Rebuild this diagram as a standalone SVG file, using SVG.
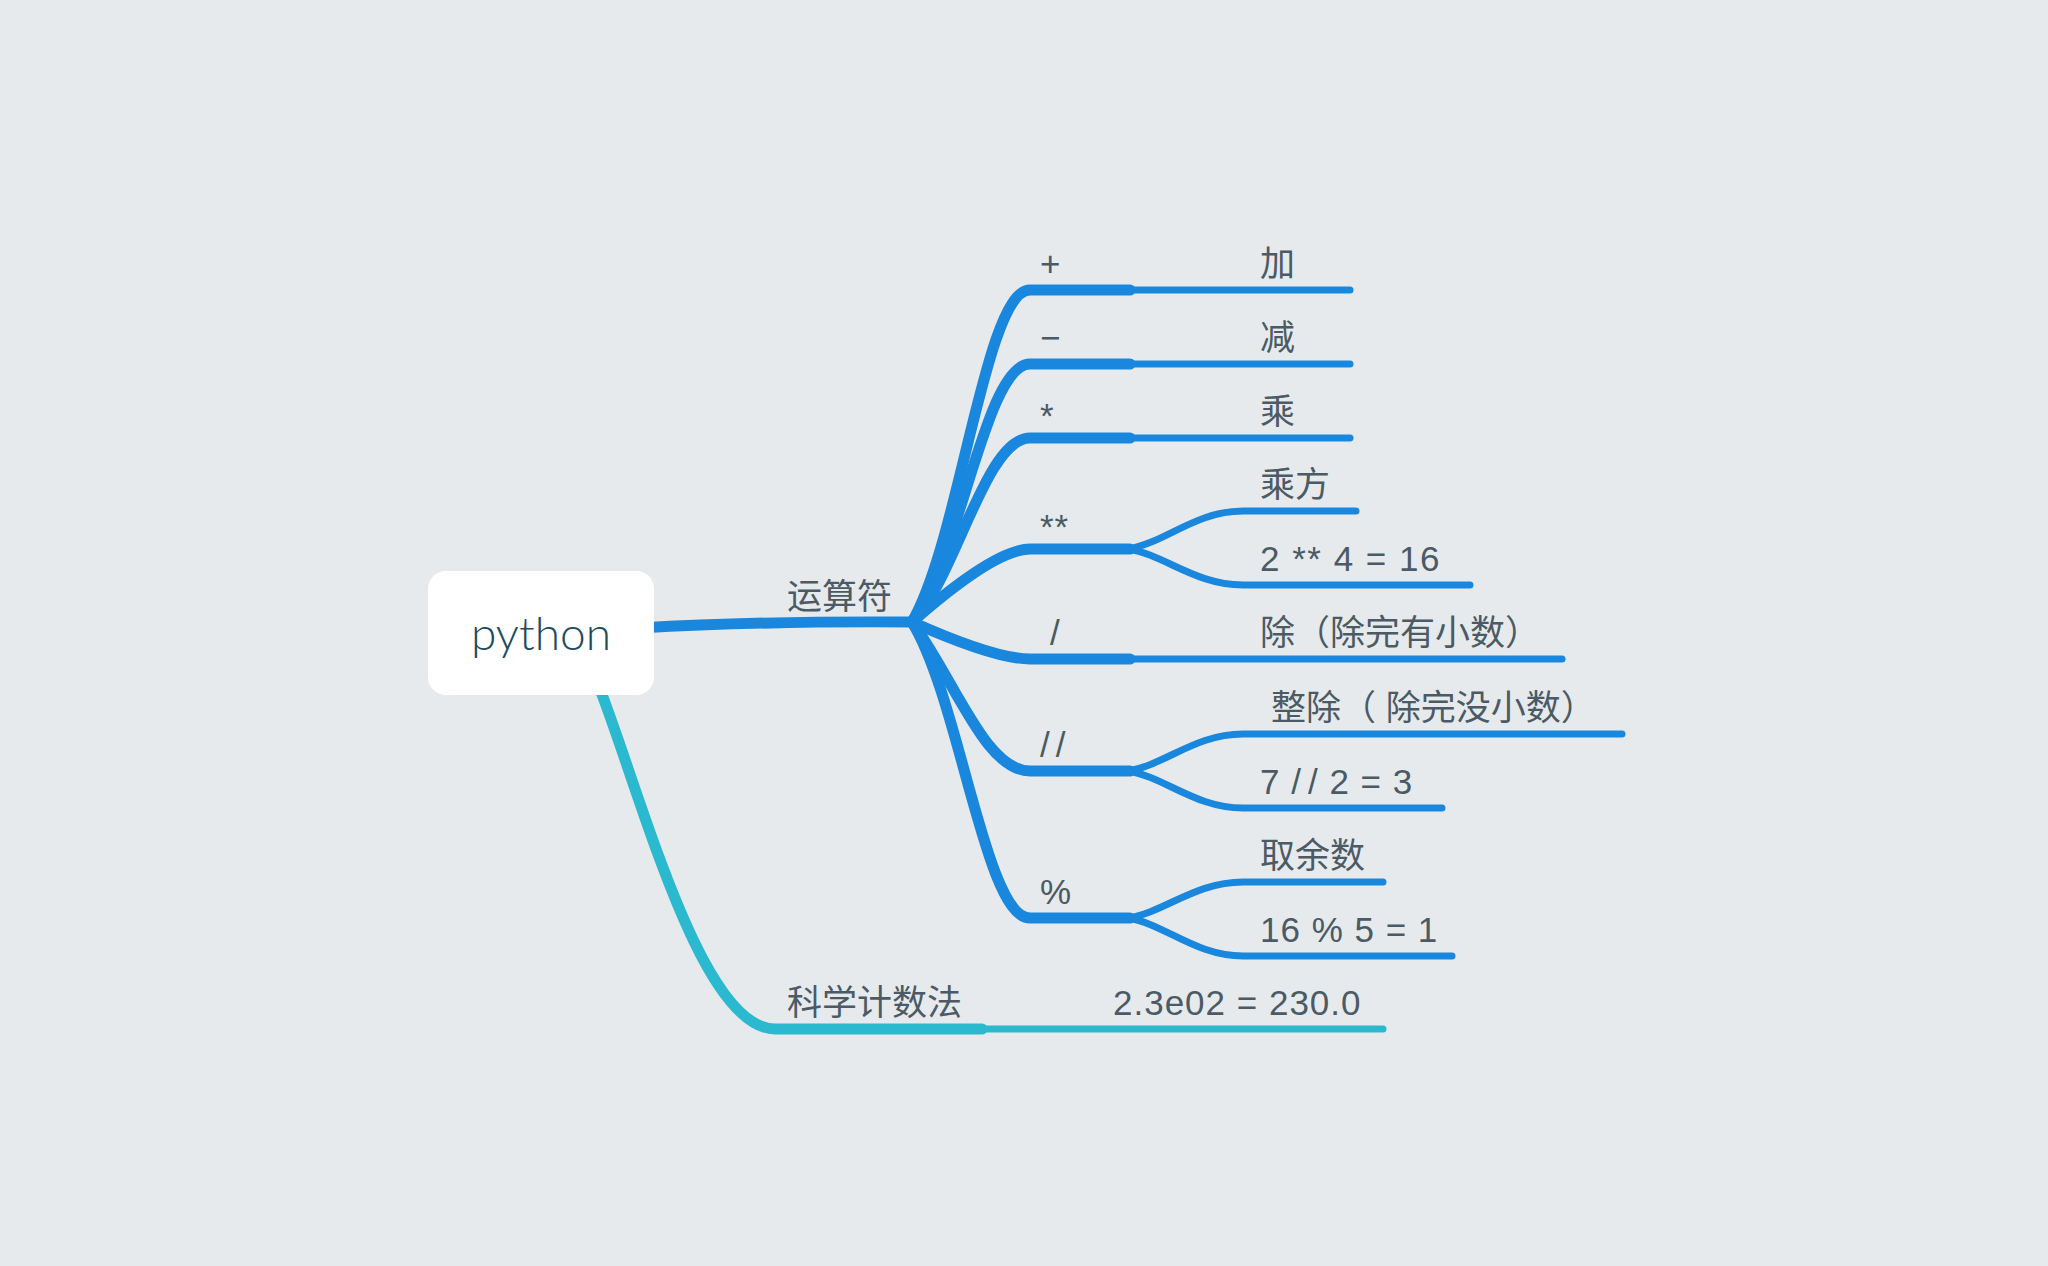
<svg xmlns="http://www.w3.org/2000/svg" width="2048" height="1266" viewBox="0 0 2048 1266">
<style>
.bg{fill:#e6eaed}
.b{fill:none;stroke:#1887dd;stroke-linecap:round}
.tl{fill:none;stroke:#2bb9d0;stroke-linecap:round}
.w11{stroke-width:11}
.w10{stroke-width:10}
.w7{stroke-width:7}
.t{font-family:"Liberation Sans","Noto Sans CJK SC",sans-serif;font-size:35px;fill:#4b5a64}
.lat{font-size:35px;letter-spacing:1px}
.root{font-family:Lato,"Open Sans",sans-serif;font-size:46px;font-weight:300;fill:#1d4c5e}
</style>
<rect class="bg" x="0" y="0" width="2048" height="1266"/>
<g id="connectors">
  <path class="b" stroke-width="11" d="M640 628 Q760 621 912 622"/>
  <path class="tl" stroke-width="11" stroke-linecap="butt" d="M598 684 C640 790 700 1029 775 1029 L982 1029"/>
  <path class="tl w7" d="M982 1029 L1383 1029"/>
  <g class="b w11" stroke-linecap="butt">
    <path d="M912 622 C960 540 985 290 1030 290 L1130 290"/>
    <path d="M912 622 C960 560 985 364 1030 364 L1130 364"/>
    <path d="M912 622 C955 580 985 438 1030 438 L1130 438"/>
    <path d="M912 622 Q995 549 1030 549 L1130 549"/>
    <path d="M912 622 Q995 659 1030 659 L1130 659"/>
    <path d="M912 622 C955 680 985 771 1030 771 L1130 771"/>
    <path d="M912 622 C960 700 985 918 1030 918 L1130 918"/>
  </g>
  <g class="b w7">
    <path d="M1128 290 L1350 290"/>
    <path d="M1128 364 L1350 364"/>
    <path d="M1128 438 L1350 438"/>
    <path d="M1128 549 C1165 543 1195 511 1243 511 L1356 511"/>
    <path d="M1128 549 C1165 555 1195 585 1243 585 L1470 585"/>
    <path d="M1128 659 L1562 659"/>
    <path d="M1128 771 C1165 765 1195 734 1243 734 L1622 734"/>
    <path d="M1128 771 C1165 777 1195 808 1243 808 L1442 808"/>
    <path d="M1128 918 C1165 912 1195 882 1243 882 L1383 882"/>
    <path d="M1128 918 C1165 924 1195 956 1243 956 L1452 956"/>
  </g>
</g>
<g id="python">
  <rect x="428" y="571" width="226" height="124" rx="18" fill="#ffffff"/>
  <text class="root" x="541" y="650" text-anchor="middle">python</text>
</g>
<g id="n-yunsuanfu"><text class="t" x="787" y="609">运算符</text></g>
<g id="n-kexue"><text class="t" x="787" y="1015">科学计数法</text></g>
<g id="n-kexue-ex"><text class="t lat" x="1113" y="1015">2.3e02 = 230.0</text></g>
<g id="n-plus"><text class="t lat" x="1040" y="276">+</text></g>
<g id="n-minus"><text class="t lat" x="1040" y="350">−</text></g>
<g id="n-mul"><text class="t lat" x="1040" y="428">*</text></g>
<g id="n-pow"><text class="t lat" x="1040" y="539">**</text></g>
<g id="n-div"><text class="t lat" x="1050" y="645">/</text></g>
<g id="n-fdiv"><text class="t lat" x="1040" y="757" style="letter-spacing:6px">//</text></g>
<g id="n-mod"><text class="t lat" x="1040" y="904">%</text></g>
<g id="n-jia"><text class="t" x="1260" y="276">加</text></g>
<g id="n-jian"><text class="t" x="1260" y="350">减</text></g>
<g id="n-cheng"><text class="t" x="1260" y="424">乘</text></g>
<g id="n-chengfang"><text class="t" x="1260" y="497">乘方</text></g>
<g id="n-pow-ex"><text class="t lat" x="1260" y="571" style="letter-spacing:1.5px">2 ** 4 = 16</text></g>
<g id="n-chu"><text class="t" x="1260" y="645">除（除完有小数）</text></g>
<g id="n-zhengchu"><text class="t" x="1271" y="720">整除（ 除完没小数）</text></g>
<g id="n-fdiv-ex"><text class="t lat" x="1260" y="794">7 <tspan style="letter-spacing:7px">/</tspan>/ 2 = 3</text></g>
<g id="n-quyushu"><text class="t" x="1260" y="868">取余数</text></g>
<g id="n-mod-ex"><text class="t lat" x="1260" y="942">16 % 5 = 1</text></g>
</svg>
